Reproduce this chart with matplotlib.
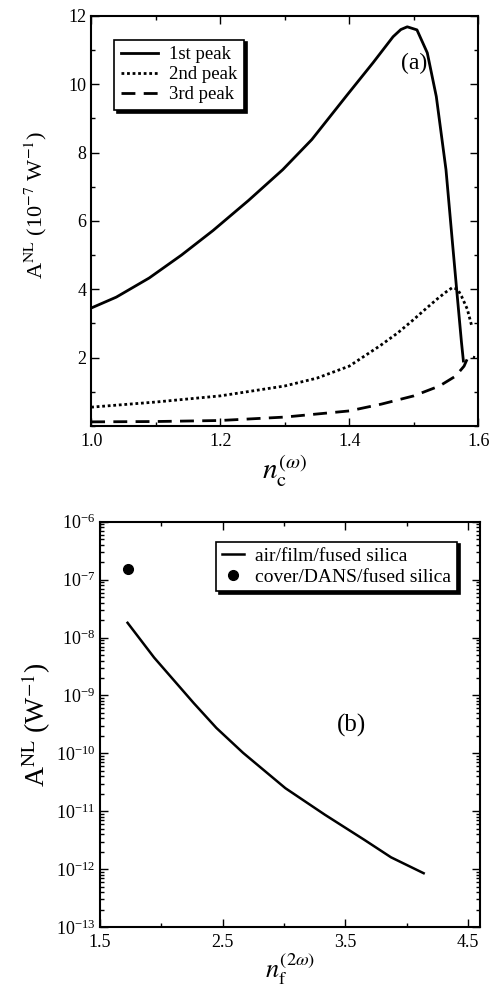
import matplotlib.pyplot as plt
import numpy as np
from matplotlib.ticker import MultipleLocator, LogLocator, NullFormatter, FixedLocator

plt.rcParams['font.family'] = ['Liberation Serif', 'DejaVu Serif']
plt.rcParams['mathtext.fontset'] = 'stix'

# panel (a) data
n1 = [1.0, 1.039, 1.09, 1.14, 1.189, 1.244, 1.297, 1.342, 1.397, 1.437, 1.468,
      1.48, 1.49, 1.505, 1.521, 1.535, 1.55, 1.56, 1.567, 1.574, 1.577]
peak1 = [3.45, 3.77, 4.33, 5.0, 5.72, 6.6, 7.5, 8.38, 9.69, 10.63, 11.39,
         11.6, 11.68, 11.59, 10.92, 9.64, 7.5, 5.37, 3.9, 2.45, 1.9]

n2 = [1.0, 1.1, 1.2, 1.3, 1.35, 1.4, 1.448, 1.475, 1.499, 1.52, 1.536, 1.55,
      1.56, 1.568, 1.574, 1.583, 1.59]
peak2 = [0.55, 0.7, 0.88, 1.17, 1.4, 1.75, 2.35, 2.72, 3.1, 3.45, 3.71, 3.92,
         4.05, 4.0, 3.8, 3.42, 2.92]

n3 = [1.0, 1.1, 1.2, 1.3, 1.4, 1.45, 1.5, 1.54, 1.565, 1.578, 1.585, 1.595]
peak3 = [0.12, 0.13, 0.16, 0.26, 0.44, 0.64, 0.88, 1.17, 1.46, 1.75, 2.05, 2.0]

# panel (b) data
nf = [1.725, 1.942, 2.264, 2.449, 2.667, 3.012, 3.334, 3.656, 3.873, 4.139]
a_film = [1.8e-8, 4.5e-9, 7.4e-10, 2.75e-10, 1.02e-10, 2.5e-11, 8.7e-12,
          3.2e-12, 1.6e-12, 8.5e-13]
nf_dans = [1.725]
a_dans = [1.5e-7]
decades = [1e-13, 1e-12, 1e-11, 1e-10, 1e-9, 1e-8, 1e-7, 1e-6]

fig = plt.figure(figsize=(4.9, 9.92), dpi=100)
ax1 = fig.add_axes([0.186, 0.5706, 0.79, 0.4134])
ax2 = fig.add_axes([0.204, 0.0655, 0.776, 0.4085])

ax1.plot(n1, peak1, color='black', lw=2, label='1st peak')
ax1.plot(n2, peak2, color='black', lw=2, ls=(0, (1, 1)), label='2nd peak')
ax1.plot(n3, peak3, color='black', lw=2, ls=(0, (5, 3)), label='3rd peak')
ax1.set_xlim(1.0, 1.6)
ax1.set_ylim(0, 12)
ax1.xaxis.set_major_locator(FixedLocator([1.0, 1.2, 1.4, 1.6]))
ax1.xaxis.set_minor_locator(MultipleLocator(0.1))
ax1.yaxis.set_major_locator(FixedLocator([2, 4, 6, 8, 10, 12]))
ax1.yaxis.set_minor_locator(MultipleLocator(1))
ax1.set_xticklabels(['1.0', '1.2', '1.4', '1.6'])
ax1.set_ylabel(r'A$^{\rm NL}$ (10$^{-7}$ W$^{-1}$)', fontsize=16, labelpad=4)
ax1.yaxis.set_label_coords(-0.11, 0.54)
ax1.set_xlabel(r'$n_{\rm c}^{(\omega)}$', fontsize=21, labelpad=2)
ax1.text(1.5, 10.6, '(a)', fontsize=17, ha='center', va='center')
leg1 = ax1.legend(loc='upper left', bbox_to_anchor=(0.035, 0.965), fontsize=13.5,
                  frameon=True, fancybox=False, edgecolor='black', framealpha=1,
                  shadow={'color': 'black', 'alpha': 1}, handlelength=2.0,
                  borderpad=0.35, labelspacing=0.15, handletextpad=0.6)
leg1.get_frame().set_linewidth(1.2)

ax2.semilogy(nf, a_film, color='black', lw=1.8, label='air/film/fused silica')
ax2.semilogy(nf_dans, a_dans, 'o', color='black', ms=7, label='cover/DANS/fused silica')
ax2.set_xlim(1.5, 4.6)
ax2.set_ylim(1e-13, 1e-6)
ax2.xaxis.set_major_locator(FixedLocator([1.5, 2.5, 3.5, 4.5]))
ax2.xaxis.set_minor_locator(FixedLocator([2.0, 3.0, 4.0]))
ax2.yaxis.set_major_locator(FixedLocator(decades))
ax2.yaxis.set_minor_locator(LogLocator(base=10, subs=np.arange(2, 10), numticks=20))
ax2.yaxis.set_minor_formatter(NullFormatter())
ax2.set_ylabel(r'A$^{\rm NL}$ (W$^{-1}$)', fontsize=20, labelpad=2)
ax2.set_xlabel(r'$n_{\rm f}^{(2\omega)}$', fontsize=19, labelpad=0)
ax2.text(3.55, 3e-10, '(b)', fontsize=18, ha='center', va='center')
leg2 = ax2.legend(loc='upper right', bbox_to_anchor=(0.965, 0.975), fontsize=14,
                  frameon=True, fancybox=False, edgecolor='black', framealpha=1,
                  shadow={'color': 'black', 'alpha': 1}, handlelength=1.1,
                  borderpad=0.3, labelspacing=0.15, handletextpad=0.6)
leg2.get_frame().set_linewidth(1.2)

for ax in (ax1, ax2):
    ax.tick_params(which='both', direction='in', top=True, right=True, labelsize=13, width=1)
    ax.tick_params(which='major', length=6)
    ax.tick_params(which='minor', length=3)
    ax.tick_params(axis='x', pad=5)
    for s in ax.spines.values():
        s.set_linewidth(1.5)

fig.savefig('out.png', dpi=100)
